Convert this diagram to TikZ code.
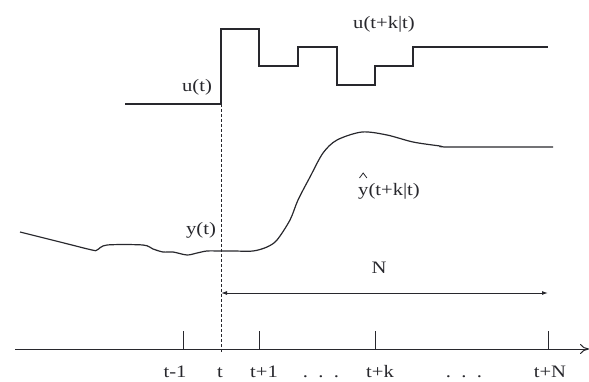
\documentclass[tikz,border=0pt]{standalone}
\usepackage{fontspec}
\setmainfont{Liberation Serif}[FakeStretch=1.18]
\usetikzlibrary{arrows.meta,calc}
\definecolor{ink}{RGB}{40,40,45}
\tikzset{
  lbl/.style={font=\fontsize{17.5}{20}\selectfont, inner sep=0pt, anchor=base, text=ink},
  signal/.style={draw=ink, line width=1.2pt, line join=miter},
  tickmark/.style={draw=ink, line width=1pt},
  hatmark/.style={draw=ink, line width=0.8pt, line join=miter},
  guide/.style={draw=ink, line width=1pt, dash pattern=on 3pt off 2pt},
}
\begin{document}
\begin{tikzpicture}[x=1pt,y=-1pt]
\useasboundingbox (0,0) rectangle (589,382);
% input signal u
\draw[signal] (125,104) -- (221,104) -- (221,29) -- (259,29) -- (259,66) -- (298,66) -- (298,47) -- (337,47) -- (337,85) -- (375,85) -- (375,66) -- (413,66) -- (413,47) -- (548,47);
% output y
\draw[signal] plot[smooth, tension=0.5] coordinates {(20,232) (60,242) (92,250) (97,250) (107,245) (143,245) (153,249) (163,252) (173,252) (187,255) (197,253) (207,251) (220,251) (233,251) (253,251) (267,247) (277,240) (290,220) (298,200) (310,177) (323,153) (337,140) (362,132) (387,135) (413,142) (440,146) (450,147) (553,147)};
% time axis
\coordinate (ax0) at (15,349);
\coordinate (ax1) at (589,349);
\draw[tickmark, -{To[length=9pt,width=10pt]}] (ax0) -- (ax1);
% dashed guide at t
\coordinate (g0) at (221,104);
\coordinate (g1) at (221,352);
\draw[guide] (g0) -- (g1);
% ticks
\foreach \name/\x in {tm/183, tp/259, tk/375, tn/548}{
  \coordinate (\name a) at (\x,331);
  \coordinate (\name b) at (\x,349);
  \draw[tickmark] (\name a) -- (\name b);
}
% horizon arrow
\coordinate (na) at (221,293);
\coordinate (nb) at (548,293);
\draw[tickmark, {Latex[length=6pt,width=4pt]}-{Latex[length=6pt,width=4pt]}] (na) -- (nb);
% labels
\node[lbl] (ut) at (197,92) {u(t)};
\node[lbl] (ukt) at (384,29) {u(t+k|t)};
\node[lbl] (yt) at (201,234) {y(t)};
\node[lbl] (yhat) at (389,196) {y(t+k|t)};
\draw[hatmark] ($(yhat.base west)+(1.5,-18)$) -- ($(yhat.base west)+(5.2,-23)$) -- ($(yhat.base west)+(8.9,-18)$);
\node[lbl] (N) at (379,273) {N};
\node[lbl] (ltm) at (175,377) {t-1};
\node[lbl] (lt) at (220,377) {t};
\node[lbl] (ltp) at (264,377) {t+1};
\node[lbl] (ld1) at (321,377) {.\ \ .\ \ .};
\node[lbl] (ltk) at (380,377) {t+k};
\node[lbl] (ld2) at (464,377) {.\ \ .\ \ .};
\node[lbl] (ltn) at (550,377) {t+N};
\end{tikzpicture}
\end{document}
